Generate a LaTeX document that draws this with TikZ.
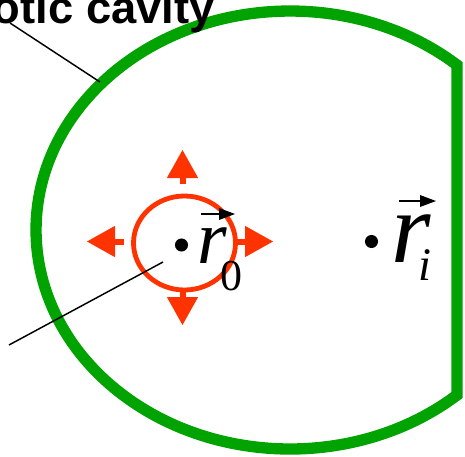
\documentclass[tikz,border=0pt]{standalone}
\usepackage{fontspec}
\setmainfont{Liberation Serif}
\newfontfamily\labelfont{Liberation Sans}
\usetikzlibrary{arrows.meta,calc}
\definecolor{cavgreen}{RGB}{0,163,0}
\definecolor{srcred}{RGB}{255,51,0}
\newcommand{\subnumfont}{\upshape\fontsize{33}{36}\selectfont}
\newcommand{\subidxfont}{\itshape\fontsize{35}{38}\selectfont}
\tikzset{
  wall/.style={draw=cavgreen, line width=8.5pt, line join=miter},
  ring/.style={draw=srcred, line width=3.6pt},
  burst/.style={-{Triangle[length=21pt, width=23.5pt, line width=0pt]}, draw=srcred, line width=4.5pt},
  pointer/.style={draw=black, line width=1.1pt},
  dot/.style={circle, fill=black, inner sep=0pt, minimum size=9.8pt},
  vecarrow/.style={-{Triangle[length=12pt, width=9pt, line width=0pt]}, draw=black, line width=1.6pt},
  lbl/.style={font=\labelfont\bfseries\fontsize{34}{40}\selectfont, inner sep=0pt},
  posr/.style={font=\itshape\fontsize{57}{60}\selectfont, inner sep=0pt},
  posrbig/.style={font=\itshape\fontsize{76}{80}\selectfont, inner sep=0pt},
}
\begin{document}
\begin{tikzpicture}[x=0.75pt, y=-0.75pt]
\clip (0,0) rectangle (465,457);
% cavity wall: ellipse cut by the flat side on the right
\draw[wall] (457,65) arc[start angle=-48.9, end angle=-311.1, x radius=254, y radius=219] -- cycle;
\node[lbl, anchor=base east] (cav) at (215,23) {Chaotic cavity};
\coordinate (cavfoot) at (10,23);
\coordinate (cavtip) at (100,82);
\draw[pointer] (cavfoot) -- (cavtip);
% source ring with its four outward arrows
\coordinate (src) at (184.5,243);
\coordinate (hub) at (182.5,241.5);
\draw[ring] (src) ellipse[x radius=51, y radius=47];
\draw[burst] ($(hub)+(0,-57.5)$) -- ($(hub)+(0,-91.5)$);
\draw[burst] ($(hub)+(0,50.5)$) -- ($(hub)+(0,83.5)$);
\draw[burst] ($(hub)+(-58.5,0)$) -- ($(hub)+(-95.5,0)$);
\draw[burst] ($(hub)+(54.5,0)$) -- ($(hub)+(90.5,0)$);
% positions
\node[dot] (d0) at (181.5,245) {};
\node[posr, anchor=base west] (r0) at (197,263) {r\kern-5pt\raisebox{-20.25pt}{\subnumfont 0}};
\coordinate (v0a) at (201,214);
\coordinate (v0b) at (235,214);
\draw[vecarrow] (v0a) -- (v0b);
\node[dot] (di) at (371.5,241.5) {};
\node[posrbig, anchor=base west] (ri) at (391,262) {r\kern-9pt\raisebox{-13.5pt}{\subidxfont i}};
\coordinate (via) at (399,201);
\coordinate (vib) at (436,201);
\draw[vecarrow] (via) -- (vib);
\coordinate (leadfoot) at (9,345);
\coordinate (leadtip) at (163,262);
\draw[pointer] (leadfoot) -- (leadtip);
\end{tikzpicture}
\end{document}
